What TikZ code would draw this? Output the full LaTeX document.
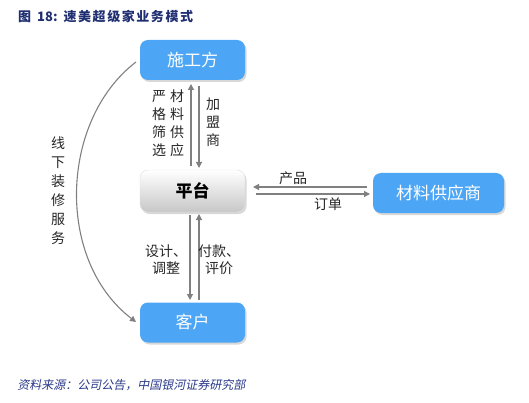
\documentclass[tikz,border=0pt]{standalone}
\usepackage{fontspec}
\setmainfont{Noto Sans CJK SC}
\newfontfamily\cjk{Noto Sans CJK SC}
\usetikzlibrary{shadows,arrows.meta}
\definecolor{boxblue}{HTML}{4DA6F5}
\definecolor{navy}{HTML}{1F2F72}
\definecolor{arrgray}{HTML}{808080}
\definecolor{srcblue}{HTML}{2A3A8A}
\tikzset{
  bluebox/.style={rounded corners=8pt, fill=boxblue, draw=none, text=white,
    minimum width=105pt, minimum height=40pt, font=\fontsize{17}{17}\selectfont,
    drop shadow={shadow xshift=1.5pt, shadow yshift=-2pt, fill=black!30, opacity=0.5}},
  graybox/.style={rounded corners=8pt, top color=white, bottom color=black!22, draw=black!12,
    minimum width=105pt, minimum height=42pt, font=\fontsize{17}{17}\selectfont\bfseries,
    drop shadow={shadow xshift=1.5pt, shadow yshift=-2pt, fill=black!30, opacity=0.5}},
  conn/.style={draw=arrgray, line width=1.2pt, -{Triangle[length=6pt,width=6pt]}},
  lbl/.style={font=\fontsize{14}{18}\selectfont, text=black!85, align=center, inner sep=0pt},
}
\begin{document}
\begin{tikzpicture}[x=1pt,y=-1pt]
\useasboundingbox (0,0) rectangle (529,403);
\node[anchor=west, text=navy, font=\fontsize{13}{14}\selectfont\bfseries, inner sep=0pt] (title) at (18,17) {图\hspace{6pt}18:\hspace{6pt}\addfontfeature{LetterSpace=12}速美超级家业务模式};
\node[bluebox] (sg) at (192.5,60) {施工方};
\node[graybox] (pt) at (192.5,191) {平台};
\node[bluebox, minimum width=131pt] (cl) at (438.5,193) {材料供应商};
\node[bluebox] (kh) at (192.5,322.5) {客户};
% vertical arrows top
\coordinate (a1s) at (191,166);
\coordinate (a1e) at (191,84);
\coordinate (a2s) at (199,86);
\coordinate (a2e) at (199,168);
\draw[conn] (a1s) -- (a1e);
\draw[conn] (a2s) -- (a2e);
\node[lbl, anchor=north] (l1) at (159,90) {严\\格\\筛\\选};
\node[lbl, anchor=north] (l2) at (177,90) {材\\料\\供\\应};
\node[lbl, anchor=north] (l3) at (213,98) {加\\盟\\商};
% vertical arrows bottom
\coordinate (b1s) at (190,215);
\coordinate (b1e) at (190,300);
\coordinate (b2s) at (199,300);
\coordinate (b2e) at (199,214);
\draw[conn] (b1s) -- (b1e);
\draw[conn] (b2s) -- (b2e);
\node[lbl, font=\fontsize{14}{17}\selectfont] (l4) at (166,260) {设计、\\调整};
\node[lbl, font=\fontsize{14}{17}\selectfont] (l5) at (219,260) {付款、\\评价};
% horizontal arrows
\coordinate (h1s) at (367,187);
\coordinate (h1e) at (253,187);
\coordinate (h2s) at (256,194);
\coordinate (h2e) at (370,194);
\draw[conn] (h1s) -- (h1e);
\draw[conn] (h2s) -- (h2e);
\node[lbl] (l6) at (293,178) {产品};
\node[lbl] (l7) at (328,204) {订单};
% curve
\coordinate (c1) at (136,62);
\coordinate (c2) at (136,322);
\draw[draw=arrgray, line width=1.1pt, -{Triangle[length=6pt,width=6pt]}] (c1) .. controls (60,120) and (55,260) .. (c2);
\node[lbl, anchor=north, font=\fontsize{14}{19}\selectfont] (l8) at (58,137) {线\\下\\装\\修\\服\\务};
% source
\node[anchor=west, text=srcblue, font=\fontsize{12}{13}\selectfont, inner sep=0pt, xslant=0.2] (src) at (18,385) {资料来源：公司公告，中国银河证券研究部};
\end{tikzpicture}
\end{document}
